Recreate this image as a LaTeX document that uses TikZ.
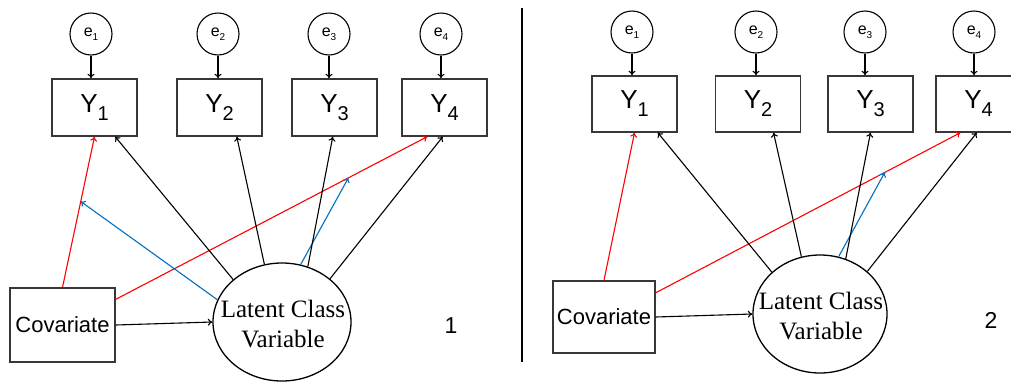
\documentclass[tikz,border=0pt]{standalone}
\usepackage{fontspec}
\newfontfamily\arialf{Liberation Sans}
\newfontfamily\timesf{Liberation Serif}
\usetikzlibrary{arrows.meta,shapes.geometric,calc}
\definecolor{myblue}{RGB}{0,112,192}
\definecolor{boxgray}{RGB}{55,55,55}
\newcommand{\ysub}[1]{Y\raisebox{-8pt}{\fontsize{20}{20}\selectfont #1}}
\newcommand{\esub}[1]{e\raisebox{-3.5pt}{\fontsize{10}{10}\selectfont #1}}
\begin{document}
\begin{tikzpicture}[x=1pt,y=-1pt,
  ybox/.style={draw=boxgray, line width=1.4pt, rectangle, minimum width=85pt, minimum height=57pt, inner sep=0pt, font=\arialf\fontsize{26}{26}\selectfont},
  errc/.style={draw=black, line width=1.1pt, circle, minimum size=42pt, inner sep=0pt, font=\arialf\fontsize{16}{16}\selectfont},
  covbox/.style={draw=boxgray, line width=1.4pt, rectangle, minimum width=105pt, minimum height=74pt, inner sep=0pt, font=\arialf\fontsize{22}{22}\selectfont},
  latent/.style={draw=black, ellipse, line width=1.3pt, minimum width=138pt, minimum height=118pt, inner sep=0pt},
  lattext/.style={font=\timesf\fontsize{25}{30}\selectfont, align=center, inner sep=0pt},
  numlab/.style={font=\arialf\fontsize{23}{23}\selectfont, inner sep=0pt},
  arr/.style={-{To[length=4.5pt,width=7pt]}, line width=1.1pt, draw=black},
  redarr/.style={arr, draw=red},
  bluearr/.style={arr, draw=myblue},
  sep/.style={line width=1.1pt, draw=black}]
\useasboundingbox (0,0) rectangle (1011,381);
\fill[white] (0,0) rectangle (1011,381);

% ---------- panel 1 ----------
\node[errc] (a-e1) at (91,34) {\esub{1}};
\node[errc] (a-e2) at (218,34) {\esub{2}};
\node[errc] (a-e3) at (329,34) {\esub{3}};
\node[errc] (a-e4) at (441,34) {\esub{4}};
\node[ybox] (a-Y1) at (94.5,107.5) {\ysub{1}};
\node[ybox] (a-Y2) at (219.5,107.5) {\ysub{2}};
\node[ybox] (a-Y3) at (334.5,107.5) {\ysub{3}};
\node[ybox] (a-Y4) at (444.5,107.5) {\ysub{4}};
\node[covbox] (a-C) at (62.5,325) {Covariate};
\node[latent] (a-L) at (282,322) {};
\node[lattext] (a-Lt) at (283,324) {Latent Class\\Variable};
\node[numlab] (a-num) at (451,326) {1};

\foreach \i in {1,2,3,4}{
  \draw[arr] (a-e\i.south) -- (a-e\i.south |- a-Y\i.north);
}
\coordinate (a-r1s) at (a-C.north);
\coordinate (a-r1e) at (a-Y1.south);
\coordinate (a-r2s) at ($(a-C.north east)!0.16!(a-C.south east)$);
\coordinate (a-r2e) at ($(a-Y4.south west)!0.3!(a-Y4.south east)$);
\draw[redarr] (a-r1s) -- (a-r1e);
\draw[redarr] (a-r2s) -- (a-r2e);
\draw[arr] (a-C.east) -- (a-L.west);
\coordinate (a-b1) at ($(a-r1s)!0.57!(a-r1e)$);
\coordinate (a-b2) at ($(a-r2s)!0.747!(a-r2e)$);
\draw[bluearr] (a-L.161) -- (a-b1);
\draw[bluearr] (a-L.72) -- (a-b2);
\draw[arr] (a-L.139) -- ($(a-Y1.south west)!0.74!(a-Y1.south east)$);
\draw[arr] (a-L.107) -- ($(a-Y2.south west)!0.7!(a-Y2.south east)$);
\draw[arr] (a-L.65) -- ($(a-Y3.south west)!0.48!(a-Y3.south east)$);
\draw[arr] (a-L.42) -- ($(a-Y4.south west)!0.48!(a-Y4.south east)$);

% ---------- separator ----------
\draw[sep] (522,8) -- (522,362);

% ---------- panel 2 ----------
\node[errc] (b-e1) at (632,32) {\esub{1}};
\node[errc] (b-e2) at (756,32) {\esub{2}};
\node[errc] (b-e3) at (865,32) {\esub{3}};
\node[errc] (b-e4) at (974,32) {\esub{4}};
\node[ybox, minimum height=56pt] (b-Y1) at (634.5,104) {\ysub{1}};
\node[ybox, minimum height=56pt] (b-Y2) at (758,104) {\ysub{2}};
\node[ybox, minimum height=56pt] (b-Y3) at (870.5,104) {\ysub{3}};
\node[ybox, minimum height=56pt] (b-Y4) at (978.5,104) {\ysub{4}};
\node[covbox, minimum width=102pt, minimum height=72pt] (b-C) at (604,317) {Covariate};
\node[latent, minimum width=134pt] (b-L) at (820,314) {};
\node[lattext] (b-Lt) at (821,316) {Latent Class\\Variable};
\node[numlab] (b-num) at (991,320) {2};

\foreach \i in {1,2,3,4}{
  \draw[arr] (b-e\i.south) -- (b-e\i.south |- b-Y\i.north);
}
\coordinate (b-r1s) at (b-C.north);
\coordinate (b-r1e) at (b-Y1.south);
\coordinate (b-r2s) at ($(b-C.north east)!0.17!(b-C.south east)$);
\coordinate (b-r2e) at ($(b-Y4.south west)!0.29!(b-Y4.south east)$);
\draw[redarr] (b-r1s) -- (b-r1e);
\draw[redarr] (b-r2s) -- (b-r2e);
\draw[arr] (b-C.east) -- (b-L.west);
\coordinate (b-b2) at ($(b-r2s)!0.752!(b-r2e)$);
\draw[bluearr] (b-L.72) -- (b-b2);
\draw[arr] (b-L.139) -- ($(b-Y1.south west)!0.77!(b-Y1.south east)$);
\draw[arr] (b-L.108) -- ($(b-Y2.south west)!0.68!(b-Y2.south east)$);
\draw[arr] (b-L.65) -- ($(b-Y3.south west)!0.5!(b-Y3.south east)$);
\draw[arr] (b-L.42) -- ($(b-Y4.south west)!0.48!(b-Y4.south east)$);
\end{tikzpicture}
\end{document}
